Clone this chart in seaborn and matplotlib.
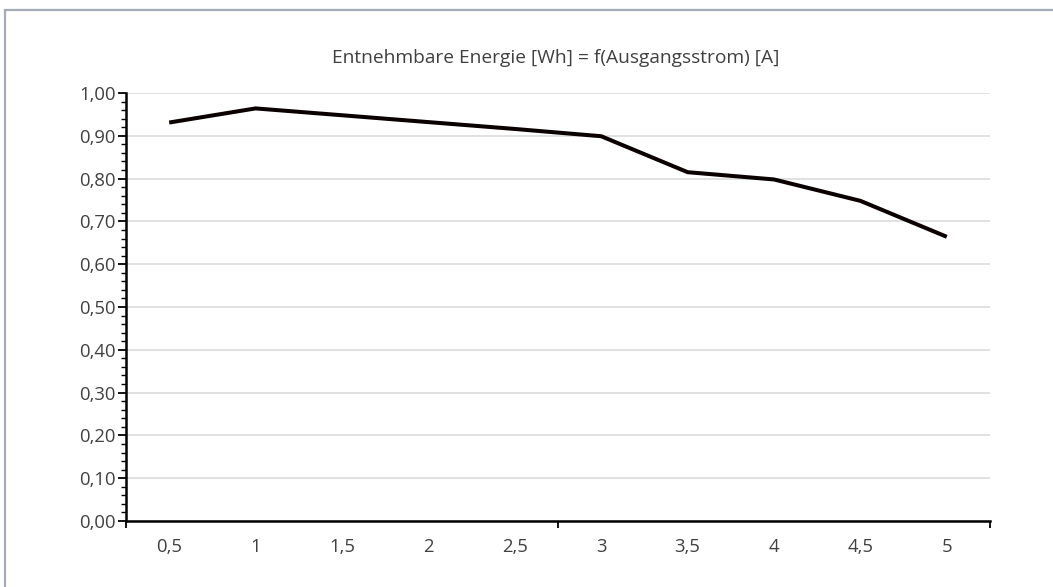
import numpy as np
import pandas as pd
import matplotlib
matplotlib.use("Agg")
import matplotlib.pyplot as plt
from matplotlib.patches import Rectangle
from matplotlib.ticker import FixedLocator, FuncFormatter, MultipleLocator, NullFormatter
import seaborn as sns

# ---- data ----
current_a = [0.5, 1.0, 1.5, 2.0, 2.5, 3.0, 3.5, 4.0, 4.5, 5.0]
x_labels = ["0,5", "1", "1,5", "2", "2,5", "3", "3,5", "4", "4,5", "5"]
energy_wh = [0.931, 0.964, 0.948, 0.932, 0.916, 0.899, 0.815, 0.798, 0.748, 0.664]
title = "Entnehmbare Energie [Wh] = f(Ausgangsstrom) [A]"

sns.set_theme(style="white")
plt.rcParams["font.family"] = ["Open Sans", "DejaVu Sans"]
TXT = "#404040"

W, H = 1053, 587
fig = plt.figure(figsize=(W / 100, H / 100), dpi=100)
fig.patch.set_facecolor("white")

# outer chart-area border (right/bottom edges fall outside the image)
fig.add_artist(Rectangle((5 / W, -0.1), 1.2, 1 - 9.5 / H + 0.1, transform=fig.transFigure,
                         fill=False, edgecolor="#a3acb5", lw=1.6))

ax = fig.add_axes([126 / W, 1 - 521 / H, (990 - 126) / W, (521 - 93) / H])

df = pd.DataFrame({"x": current_a, "y": energy_wh})
sns.lineplot(data=df, x="x", y="y", ax=ax, color="#0a0000", lw=2.9, sort=False,
             solid_joinstyle="round", solid_capstyle="butt")

ax.set_xlim(0.25, 5.25)
ax.set_ylim(0, 1.0)

# y axis
ax.yaxis.set_major_locator(MultipleLocator(0.1))
ax.yaxis.set_minor_locator(MultipleLocator(0.02))
ax.yaxis.set_major_formatter(FuncFormatter(lambda v, p: f"{v:.2f}".replace(".", ",")))
ax.tick_params(axis="y", which="major", length=5.5, width=1.3, color="black",
               labelsize=13.3, labelcolor=TXT, pad=2, direction="out", left=True)
ax.tick_params(axis="y", which="minor", length=3.5, width=1.0, color="black",
               direction="out", left=True)
ax.yaxis.grid(True, which="major", color="#d9d9d9", lw=1.1)
ax.set_axisbelow(True)

# x axis: category labels centered, tick marks on category boundaries
ax.xaxis.set_major_locator(FixedLocator([0.25, 2.75, 5.25]))
ax.xaxis.set_major_formatter(NullFormatter())
ax.xaxis.set_minor_locator(FixedLocator(current_a))
ax.xaxis.set_minor_formatter(FuncFormatter(lambda v, p: x_labels[current_a.index(round(v, 2))]
                                           if round(v, 2) in current_a else ""))
ax.tick_params(axis="x", which="major", length=5, width=1.3, color="black", direction="out", bottom=True)
ax.tick_params(axis="x", which="minor", length=0, labelsize=13.3, labelcolor=TXT, pad=12.5, bottom=True)
ax.xaxis.get_major_ticks()[-1].tick1line.set_color("#9a9a9a")

for s in ["top", "right"]:
    ax.spines[s].set_visible(False)
for s in ["left", "bottom"]:
    ax.spines[s].set_color("black")
    ax.spines[s].set_linewidth(1.8)

ax.set_xlabel("")
ax.set_ylabel("")

fig.text(556 / W, 1 - 58 / H, title, ha="center", va="center", fontsize=13.8, color=TXT)

fig.savefig("out.png", dpi=100, facecolor="white")
